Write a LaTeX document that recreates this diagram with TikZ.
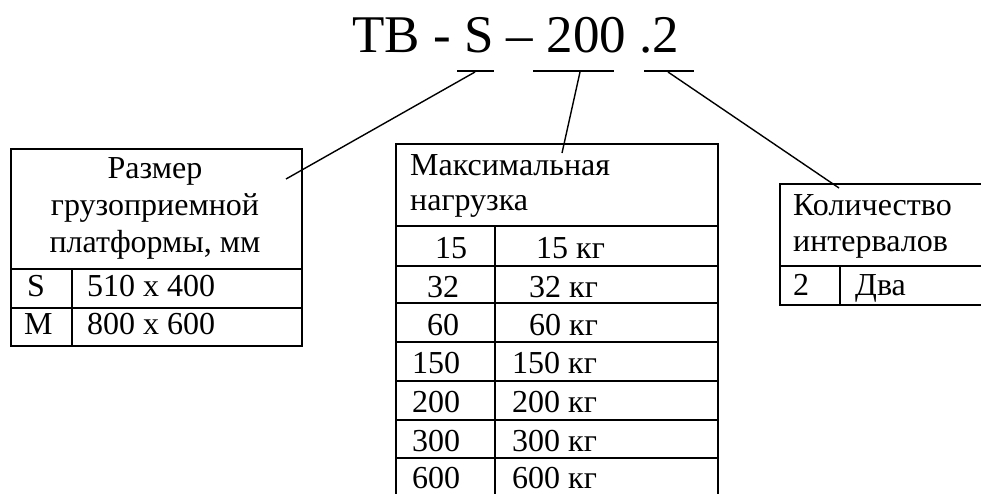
\documentclass[tikz,border=0pt]{standalone}
\usepackage{fontspec}
\setmainfont{Liberation Serif}
\begin{document}
\begin{tikzpicture}[x=1pt,y=-1pt,
  frame/.style={line width=1.9pt},
  lead/.style={line width=1.4pt},
  txt/.style={anchor=base west,inner sep=0pt,font=\fontsize{32}{38}\selectfont},
  ctxt/.style={anchor=base,inner sep=0pt,font=\fontsize{32}{38}\selectfont}]
\useasboundingbox (0,0) rectangle (981,493);
\clip (0,0) rectangle (981,493);
% title
\node[anchor=base west,inner sep=0pt,font=\rmfamily\fontsize{53}{60}\selectfont] (title) at (352,52) {ТВ - S – 200 .2};
% underlines
\draw[lead] (457,71) coordinate (uSa) -- (494,71) coordinate (uSb);
\draw[lead] (533,71) coordinate (uLa) -- (614,71) coordinate (uLb);
\draw[lead] (644,71) coordinate (uIa) -- (694,71) coordinate (uIb);
\coordinate (pS) at (475,72);
\coordinate (pL) at (580,72);
\coordinate (pI) at (668,72);
\coordinate (eS) at (286,179);
\coordinate (eL) at (562,153);
\coordinate (eI) at (839,188);
\draw[lead] (pS) -- (eS);
\draw[lead] (pL) -- (eL);
\draw[lead] (pI) -- (eI);
% left table
\draw[frame] (11,149) rectangle (302,346);
\draw[frame] (11,269) -- (302,269);
\draw[frame] (11,308) -- (302,308);
\draw[frame] (72,269) -- (72,346);
\node[ctxt] (a1) at (155,178) {Размер};
\node[ctxt] (a2) at (155,215) {грузоприемной};
\node[ctxt] (a3) at (155,252) {платформы, мм};
\node[txt] (aS) at (27,296) {S};
\node[txt] (aSv) at (87,296) {510 x 400};
\node[txt] (aM) at (24,334) {M};
\node[txt] (aMv) at (87,334) {800 x 600};
% middle table
\draw[frame] (396,500) -- (396,144) -- (718,144) -- (718,500);
\foreach \yy in {226,266,303,342,381,420,458}
  \draw[frame] (396,\yy) -- (718,\yy);
\draw[frame] (495,226) -- (495,500);
\node[txt] (b1) at (410,175) {Максимальная};
\node[txt] (b2) at (410,210) {нагрузка};
\node[txt] (r1a) at (435,258) {15};
\node[txt] (r1b) at (536,258) {15 кг};
\node[txt] (r2a) at (427,297) {32};
\node[txt] (r2b) at (529,297) {32 кг};
\node[txt] (r3a) at (427,335) {60};
\node[txt] (r3b) at (529,335) {60 кг};
\node[txt] (r4a) at (412,373) {150};
\node[txt] (r4b) at (512,373) {150 кг};
\node[txt] (r5a) at (412,412) {200};
\node[txt] (r5b) at (512,412) {200 кг};
\node[txt] (r6a) at (412,451) {300};
\node[txt] (r6b) at (512,451) {300 кг};
\node[txt] (r7a) at (412,488) {600};
\node[txt] (r7b) at (512,488) {600 кг};
% right table
\draw[frame] (990,184) -- (780,184) -- (780,305) -- (990,305);
\draw[frame] (780,266) -- (990,266);
\draw[frame] (840,266) -- (840,305);
\node[txt] (c1) at (793,215) {Количество};
\node[txt] (c2) at (793,251) {интервалов};
\node[txt] (c3) at (793,295) {2};
\node[txt] (c4) at (855,295) {Два};
\end{tikzpicture}
\end{document}
